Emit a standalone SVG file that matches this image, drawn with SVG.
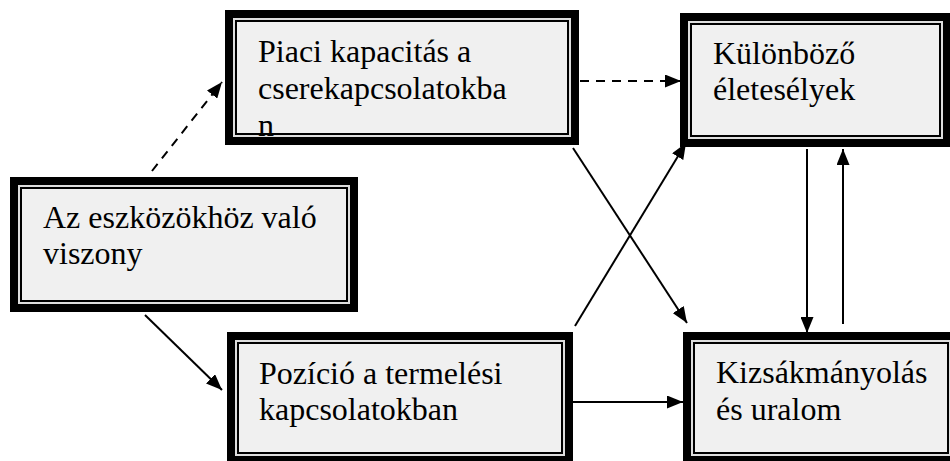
<svg xmlns="http://www.w3.org/2000/svg" width="950" height="461" viewBox="0 0 950 461">
<defs>
<style>
.o{fill:#000}
.g{fill:#dedede}
.i{fill:#000}
.f{fill:#f0f0f0}
.t{font-family:"Liberation Serif","Times New Roman",serif;font-size:32px;fill:#000}
.c{stroke:#000;stroke-width:2;fill:none}
.d{stroke-dasharray:9 7}
</style>
<marker id="ah" markerUnits="userSpaceOnUse" markerWidth="16" markerHeight="13" refX="16" refY="6.5" orient="auto">
<path d="M0,0 L16,6.5 L0,13 z" fill="#000"/>
</marker>
</defs>
<rect x="0" y="0" width="950" height="461" fill="#fff"/>
<g id="node-eszkozok">
<rect class="o" x="10" y="177" width="348" height="135"/>
<rect class="g" x="18" y="185" width="332" height="119"/>
<rect class="i" x="20" y="187" width="328" height="115"/>
<rect class="f" x="22" y="189" width="324" height="111"/>
<text class="t" x="43" y="228">Az eszközökhöz való</text>
<text class="t" x="43" y="264">viszony</text>
</g>
<g id="node-piaci">
<rect class="o" x="225" y="10" width="354" height="135"/>
<rect class="g" x="233" y="18" width="338" height="119"/>
<rect class="i" x="235" y="20" width="334" height="115"/>
<rect class="f" x="237" y="22" width="330" height="111"/>
<text class="t" x="258" y="62">Piaci kapacitás a</text>
<text class="t" x="258" y="99">cserekapcsolatokba</text>
<text class="t" x="258" y="136">n</text>
</g>
<g id="node-kulonbozo">
<rect class="o" x="680" y="13" width="270" height="134"/>
<rect class="g" x="688" y="21" width="255" height="118"/>
<rect class="i" x="690" y="23" width="251" height="114"/>
<rect class="f" x="692" y="25" width="247" height="110"/>
<text class="t" x="713" y="64">Különböző</text>
<text class="t" x="713" y="100">életesélyek</text>
</g>
<g id="node-kizsakmanyolas">
<rect class="o" x="683" y="332" width="276" height="132"/>
<rect class="g" x="691" y="340" width="260" height="116"/>
<rect class="i" x="693" y="342" width="256" height="112"/>
<rect class="f" x="695" y="344" width="252" height="108"/>
<text class="t" x="716" y="383">Kizsákmányolás</text>
<text class="t" x="716" y="420">és uralom</text>
</g>
<g id="node-pozicio">
<rect class="o" x="227" y="332" width="346" height="132"/>
<rect class="g" x="235" y="340" width="330" height="116"/>
<rect class="i" x="237" y="342" width="326" height="112"/>
<rect class="f" x="239" y="344" width="322" height="108"/>
<text class="t" x="259" y="384">Pozíció a termelési</text>
<text class="t" x="259" y="420">kapcsolatokban</text>
</g>
<g id="connectors">
<line class="c d" x1="152" y1="171" x2="222" y2="82" marker-end="url(#ah)"/>
<line class="c" x1="145" y1="315" x2="222" y2="390" marker-end="url(#ah)"/>
<line class="c d" x1="580" y1="81" x2="681" y2="81" marker-end="url(#ah)"/>
<line class="c" x1="573" y1="148" x2="687" y2="323" marker-end="url(#ah)"/>
<line class="c" x1="575" y1="326" x2="686" y2="143" marker-end="url(#ah)"/>
<line class="c" x1="807" y1="149" x2="807" y2="333" marker-end="url(#ah)"/>
<line class="c" x1="843" y1="324" x2="843" y2="149" marker-end="url(#ah)"/>
<line class="c" x1="573" y1="402" x2="683" y2="402" marker-end="url(#ah)"/>
</g>
</svg>
